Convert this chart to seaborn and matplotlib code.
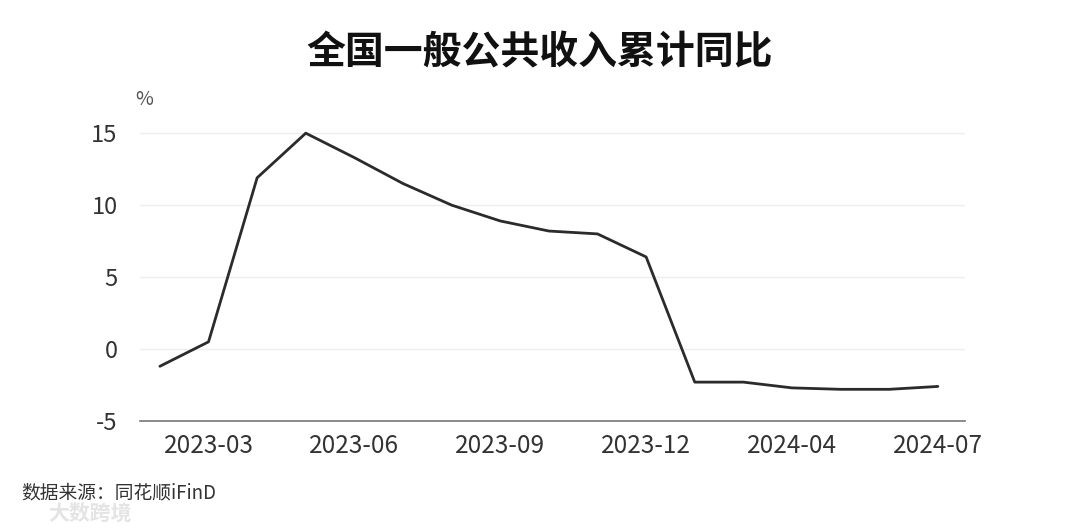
import numpy as np
import pandas as pd
import matplotlib
matplotlib.use("Agg")
import matplotlib.pyplot as plt
import seaborn as sns

# ── Data: cumulative YoY growth of national general public budget revenue ──
periods = ["2023-02", "2023-03", "2023-04", "2023-05", "2023-06", "2023-07",
           "2023-08", "2023-09", "2023-10", "2023-11", "2023-12",
           "2024-02", "2024-03", "2024-04", "2024-05", "2024-06", "2024-07"]
yoy = [-1.2, 0.5, 11.9, 15.0, 13.3, 11.5, 10.0, 8.9, 8.2, 8.0, 6.4,
       -2.3, -2.3, -2.7, -2.8, -2.8, -2.6]
tick_labels = ["2023-03", "2023-06", "2023-09", "2023-12", "2024-04", "2024-07"]
y_ticks = [-5, 0, 5, 10, 15]

df = pd.DataFrame({"period": periods, "yoy": yoy, "pos": np.arange(len(periods))})

sns.set_theme(style="white")
plt.rcParams["font.family"] = ["Noto Sans CJK SC", "DejaVu Sans"]

fig = plt.figure(figsize=(10.8, 5.28), dpi=100)
ax = fig.add_axes([0.1296, 0.2027, 0.764, 0.5587])

sns.lineplot(data=df, x="pos", y="yoy", ax=ax, color="#2b2b2b", linewidth=2)

ax.set_xlim(-0.41, 16.56)
ax.set_ylim(-5, 15.5)
ax.set_yticks(y_ticks)
ax.set_yticklabels([str(t) for t in y_ticks], fontsize=17, color="#333333",
                   fontweight="light")
tick_pos = [periods.index(t) for t in tick_labels]
ax.set_xticks(tick_pos)
ax.set_xticklabels(tick_labels, fontsize=17.5, color="#333333", fontweight="light")
ax.tick_params(axis="x", length=0, pad=9)
ax.tick_params(axis="y", length=0, pad=16)

for t in y_ticks[1:]:
    ax.axhline(t, color="#eeeeee", linewidth=1, zorder=0)

for s in ["top", "right", "left"]:
    ax.spines[s].set_visible(False)
ax.spines["bottom"].set_color("#777777")
ax.spines["bottom"].set_linewidth(1.2)
ax.set_xlabel("")
ax.set_ylabel("")

fig.text(0.125, 0.812, "%", fontsize=14, color="#555555", ha="left", va="center",
         fontweight="light")
fig.text(0.5, 0.9, "全国一般公共收入累计同比", fontsize=28, fontweight="bold",
         ha="center", va="center", color="#111111")
fig.text(0.02, 0.066, "数据来源：同花顺iFinD", fontsize=13.5, color="#333333",
         ha="left", va="center")
fig.text(0.045, 0.028, "大数跨境", fontsize=15, color="#e4e4e4", fontweight="bold",
         ha="left", va="center")

fig.savefig("out.png", dpi=100)
